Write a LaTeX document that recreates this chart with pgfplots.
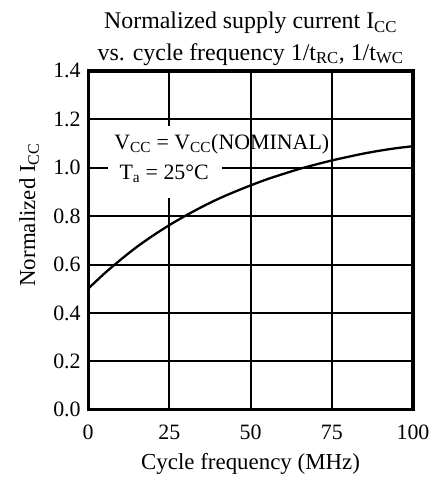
\documentclass[border=0pt]{standalone}
\usepackage{fontspec}
\setmainfont{Liberation Serif}
\usepackage{pgfplots}
\pgfplotsset{compat=1.18}
\begin{document}
\begin{tikzpicture}[font=\fontsize{23}{27}\selectfont]
\begin{axis}[
    scale only axis,
    width=325bp, height=339bp,
    xmin=0, xmax=100, ymin=0, ymax=1.4,
    xtick={0,25,50,75,100},
    ytick={0,0.2,0.4,0.6,0.8,1.0,1.2,1.4},
    /pgf/number format/assume math mode=true,
    ticklabel style={font=\fontsize{22}{26}\selectfont},
    yticklabel style={xshift=-4bp, /pgf/number format/.cd, fixed, fixed zerofill, precision=1},
    xticklabel style={anchor=base, yshift=-30bp, /pgf/number format/.cd, fixed, precision=0},
    grid=major,
    major grid style={black, line width=2bp},
    axis line style={line width=3.3bp},
    tick style={draw=none},
    title={Normalized supply current I\textsubscript{CC}\\vs. cycle frequency 1/t\textsubscript{RC}, 1/t\textsubscript{WC}},
    title style={align=center, font=\fontsize{24}{32}\selectfont, yshift=-4bp},
    xlabel={Cycle frequency (MHz)},
    xlabel style={at={(rel axis cs:0.5,0)}, anchor=base, yshift=-60bp},
    ylabel={Normalized I\textsubscript{CC}},
    ylabel style={at={(rel axis cs:-0.163,0.575)}, anchor=base},
]
% white patch behind the conditions text
\fill[white] (axis cs:6,0.875) rectangle (axis cs:41.2,1.173);
% curve
\addplot[black, line width=2.3bp, smooth] coordinates {
    (0,0.500)(5,0.563)(10,0.620)(15,0.673)(20,0.720)(25,0.763)(30,0.802)
    (35,0.838)(40,0.871)(45,0.900)(50,0.927)(55,0.952)(60,0.974)(65,0.995)
    (70,1.013)(75,1.030)(80,1.045)(85,1.059)(90,1.071)(95,1.081)(100,1.089)
};
\node[anchor=base west, inner sep=0pt, font=\fontsize{22}{26}\selectfont] at (axis cs:8.0,1.075) {V\textsubscript{CC} = V\textsubscript{CC}(NOMINAL)};
\node[anchor=base west, inner sep=0pt, font=\fontsize{22}{26}\selectfont] at (axis cs:9.6,0.951) {T\textsubscript{a} = 25°C};
\end{axis}
% extra white margin as in the reference
\path ([yshift=8.5bp]current bounding box.north);
\path ([xshift=-16bp]current bounding box.west);
\path ([xshift=2bp]current bounding box.east);
\end{tikzpicture}
\end{document}
